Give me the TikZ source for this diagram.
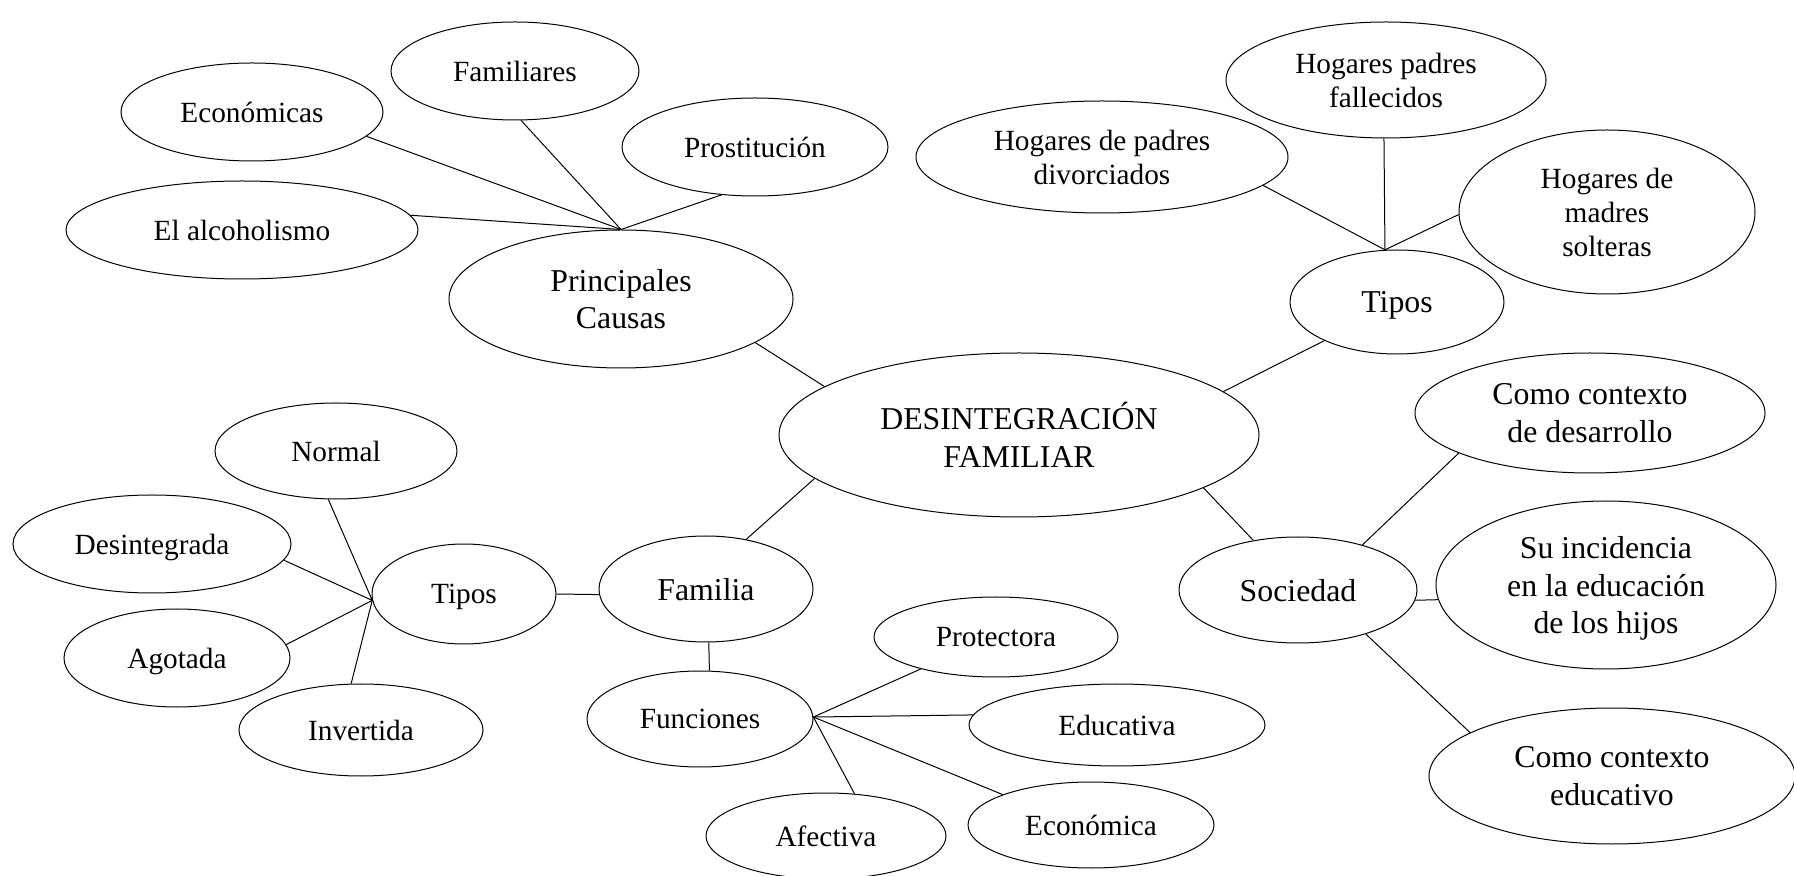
\documentclass[tikz,border=0pt]{standalone}
\usepackage{fontspec}
\setmainfont{Liberation Serif}
\usetikzlibrary{shapes.geometric}

\begin{document}
\begin{tikzpicture}[x = 0.5pt, y = -0.5pt, line width = 0.5pt,
    main/.style = {draw, ellipse, inner sep = 0pt, align = center, text depth = 0pt, font = \fontsize{14.65}{17}\selectfont},
    big/.style = {main, font = \fontsize{15.9}{18.8}\selectfont},
    radii/.style 2 args = {minimum width = #1pt, minimum height = #2pt}]
    \useasboundingbox (0, 0) rectangle (1794, 876);

    \node[big, radii = {240}{82}](desint) at (1019, 435) {DESINTEGRACIÓN\\FAMILIAR};

    \node[big, radii = {172}{69}](causas) at (621, 299) {Principales\\Causas};
    \node[main, radii = {131}{49}](economicas) at (252, 112) {Económicas};
    \node[main, radii = {124}{49}](familiares) at (515, 71) {Familiares};
    \node[main, radii = {133}{49}](prostitucion) at (755, 147) {Prostitución};
    \node[main, radii = {176}{49}](alcoholismo) at (242, 230) {El alcoholismo};

    \node[big, radii = {107}{52}](tipos2) at (1397, 302) {Tipos};
    \node[main, radii = {186}{56}](divorciados) at (1102, 157) {Hogares de padres\\divorciados};
    \node[main, radii = {160}{58}](fallecidos) at (1386, 80) {Hogares padres\\fallecidos};
    \node[main, radii = {148}{82}](solteras) at (1607, 212) {Hogares de\\madres\\solteras};

    \node[big, radii = {119}{53}](sociedad) at (1298, 590) {Sociedad};
    \node[big, radii = {175}{60}](desarrollo) at (1590, 413) {Como contexto\\de desarrollo};
    \node[big, radii = {170}{84}, text depth = -5.6pt](incidencia) at (1606, 585) {Su incidencia\\en la educación\\de los hijos};
    \node[big, radii = {183}{68}](contexto) at (1612, 776) {Como contexto\\educativo};

    \node[big, radii = {107}{53}](familia) at (706, 589) {Familia};
    \node[main, radii = {92}{50}](tipos1) at (464, 594) {Tipos};
    \node[main, radii = {121}{48}](normal) at (336, 451) {Normal};
    \node[main, radii = {139}{49}](desintegrada) at (152, 544) {Desintegrada};
    \node[main, radii = {113}{49}](agotada) at (177, 658) {Agotada};
    \node[main, radii = {122}{46}](invertida) at (361, 730) {Invertida};

    \node[main, radii = {113}{48}](funciones) at (700, 719) {Funciones};
    \node[main, radii = {122}{40}](protectora) at (996, 637) {Protectora};
    \node[main, radii = {148}{41}](educativa) at (1117, 725) {Educativa};
    \node[main, radii = {123}{43}](economica) at (1091, 825) {Económica};
    \node[main, radii = {120}{43}](afectiva) at (826, 836) {Afectiva};

    \draw(causas.-18.6) -- (desint.166.8);
    \draw(causas.north) -- (economicas.-12.1);
    \draw(causas.north) -- (familiares.-83.2);
    \draw(causas.north) -- (prostitucion.-125);
    \draw(causas.north) -- (alcoholismo.5.7);

    \draw(tipos2.208.3) -- (desint.12.7);
    \draw(tipos2.103) -- (divorciados.-10.2);
    \draw(tipos2.103) -- (fallecidos.-92);
    \draw(tipos2.103) -- (solteras.181.2);

    \draw(sociedad.132) -- (desint.-16.9);
    \draw(sociedad.35.8) -- (desarrollo.197.1);
    \draw(sociedad.-5.8) -- (incidencia.185.7);
    \draw(sociedad.-33.7) -- (contexto.163.5);

    \draw(familia.51.9) -- (desint.192.6);
    \draw(tipos1.east) -- (familia.183);
    \draw(tipos1.184.4) -- (normal.261.7);
    \draw(tipos1.184.4) -- (desintegrada.-7.4);
    \draw(tipos1.184.4) -- (agotada.7.1);
    \draw(tipos1.184.4) -- (invertida.102.3);

    \draw(familia.-87) -- (funciones.79);
    \draw(funciones.1) -- (protectora.203.3);
    \draw(funciones.1) -- (educativa.176.9);
    \draw(funciones.1) -- (economica.161.2);
    \draw(funciones.1) -- (afectiva.56);
\end{tikzpicture}
\end{document}
